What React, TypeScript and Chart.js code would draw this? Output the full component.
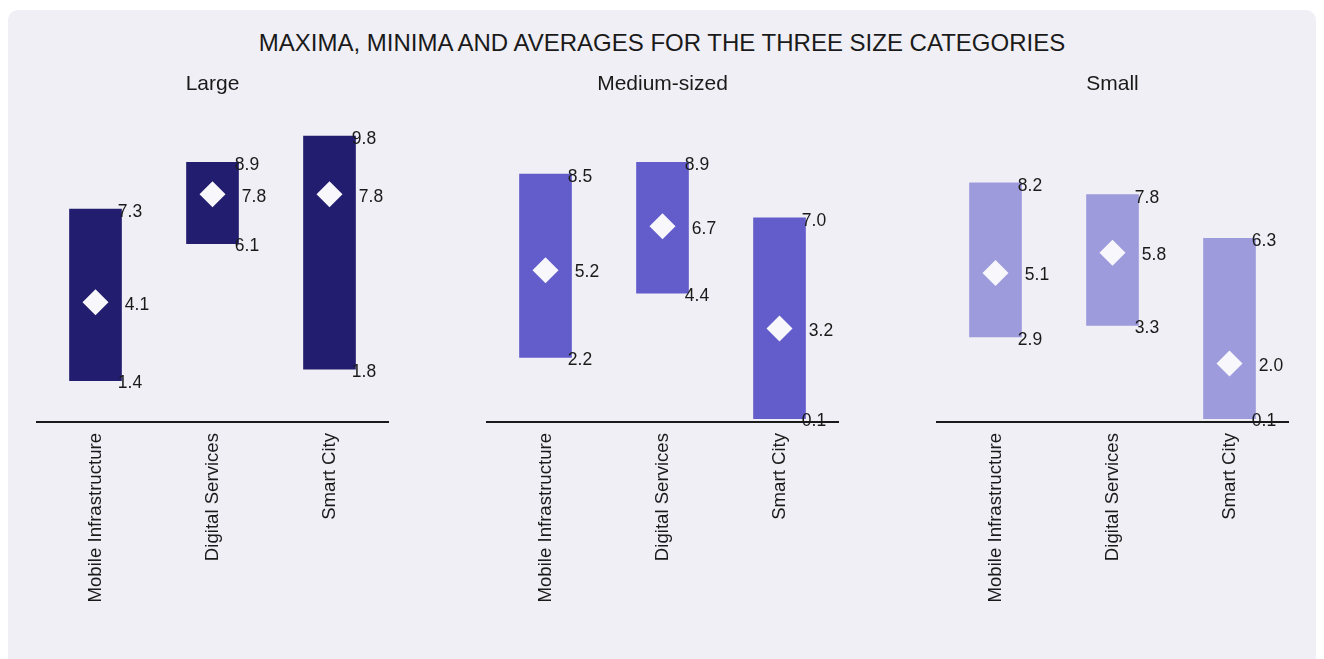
import React, { useEffect, useRef } from "react";
import { Chart, registerables } from "chart.js";

Chart.register(...registerables);

const mainTitle = "MAXIMA, MINIMA AND AVERAGES FOR THE THREE SIZE CATEGORIES";
const categories = ["Mobile Infrastructure", "Digital Services", "Smart City"];
const panelTitles = ["Large", "Medium-sized", "Small"];
const panelColors = ["#221d6e", "#625dcb", "#9e9bdd"];

const largeMin = [1.4, 6.1, 1.8];
const largeMax = [7.3, 8.9, 9.8];
const largeAvg = [4.1, 7.8, 7.8];

const mediumMin = [2.2, 4.4, 0.1];
const mediumMax = [8.5, 8.9, 7.0];
const mediumAvg = [5.2, 6.7, 3.2];

const smallMin = [2.9, 3.3, 0.1];
const smallMax = [8.2, 7.8, 6.3];
const smallAvg = [5.1, 5.8, 2.0];

const panelMins = [largeMin, mediumMin, smallMin];
const panelMaxs = [largeMax, mediumMax, smallMax];
const panelAvgs = [largeAvg, mediumAvg, smallAvg];

const FONT = '"Liberation Sans", Arial, Helvetica, sans-serif';
const TEXT = "#1a1a1a";

function makeLabelPlugin(mins: number[], maxs: number[], avgs: number[]) {
  return {
    id: "rangeLabels",
    afterDatasetsDraw(chart: any) {
      const ctx = chart.ctx;
      const barMeta = chart.getDatasetMeta(0);
      const ptMeta = chart.getDatasetMeta(1);
      ctx.save();
      ctx.font = `17.5px ${FONT}`;
      ctx.fillStyle = TEXT;
      ctx.textAlign = "left";
      ctx.textBaseline = "middle";
      barMeta.data.forEach((bar: any, i: number) => {
        const half = bar.width / 2;
        const right = bar.x + half;
        ctx.fillText(maxs[i].toFixed(1), right - 4, bar.y + 3.5);
        ctx.fillText(mins[i].toFixed(1), right - 4, bar.base + 2.5);
        const p = ptMeta.data[i];
        if (p) ctx.fillText(avgs[i].toFixed(1), right + 3, p.y + 2.5);
      });
      ctx.restore();
    },
  };
}

function Panel({ idx }: { idx: number }) {
  const ref = useRef<HTMLCanvasElement | null>(null);
  useEffect(() => {
    if (!ref.current) return;
    const chart: any = new Chart(ref.current, {
      type: "bar",
      data: {
        labels: categories,
        datasets: [
          {
            type: "bar",
            data: categories.map((_, i) => [panelMins[idx][i], panelMaxs[idx][i]]),
            backgroundColor: panelColors[idx],
            borderWidth: 0,
            barPercentage: 0.45,
            categoryPercentage: 1,
            order: 1,
          } as any,
          {
            type: "line",
            data: panelAvgs[idx],
            showLine: false,
            pointStyle: "rectRot",
            pointRadius: 13,
            pointHoverRadius: 13,
            pointBackgroundColor: "#f8f8fc",
            pointBorderWidth: 0,
            order: 0,
          } as any,
        ],
      },
      options: {
        animation: false,
        responsive: false,
        maintainAspectRatio: false,
        layout: { padding: { left: 25, right: 26, top: 0, bottom: 0 } },
        plugins: {
          legend: { display: false },
          tooltip: { enabled: false },
          title: {
            display: true,
            text: panelTitles[idx],
            color: TEXT,
            font: { family: FONT, size: 21, weight: "normal" },
            padding: { top: 21.4, bottom: 4.2 },
          },
        },
        scales: {
          x: {
            grid: { display: false },
            border: { display: true, color: "#1a1a1a", width: 2 },
            ticks: {
              color: TEXT,
              font: { family: FONT, size: 18.6 },
              minRotation: 90,
              maxRotation: 90,
              autoSkip: false,
            },
            afterFit: (scale: any) => {
              scale.height = 190;
            },
          },
          y: {
            display: false,
            min: 0,
            max: 11,
          },
        },
      },
      plugins: [makeLabelPlugin(panelMins[idx], panelMaxs[idx], panelAvgs[idx])],
    } as any);
    return () => chart.destroy();
  }, [idx]);
  return (
    <canvas
      ref={ref}
      width={402}
      height={562}
      style={{ position: "absolute", left: 4 + idx * 450, top: 40, width: 402, height: 562 }}
    />
  );
}

export default function App() {
  useEffect(() => {
    document.documentElement.style.overflow = "hidden";
    document.body.style.overflow = "hidden";
  }, []);
  return (
    <div
      style={{
        position: "relative",
        marginTop: 2,
        width: 1308,
        height: 660,
        background: "#f0eff5",
        borderRadius: 10,
        overflow: "hidden",
      }}
    >
      <div
        style={{
          position: "absolute",
          top: 19,
          left: 0,
          width: "100%",
          height: 28,
          lineHeight: "28px",
          textAlign: "center",
          fontFamily: FONT,
          fontSize: 24,
          color: TEXT,
        }}
      >
        {mainTitle}
      </div>
      {[0, 1, 2].map((i) => (
        <Panel key={i} idx={i} />
      ))}
    </div>
  );
}
